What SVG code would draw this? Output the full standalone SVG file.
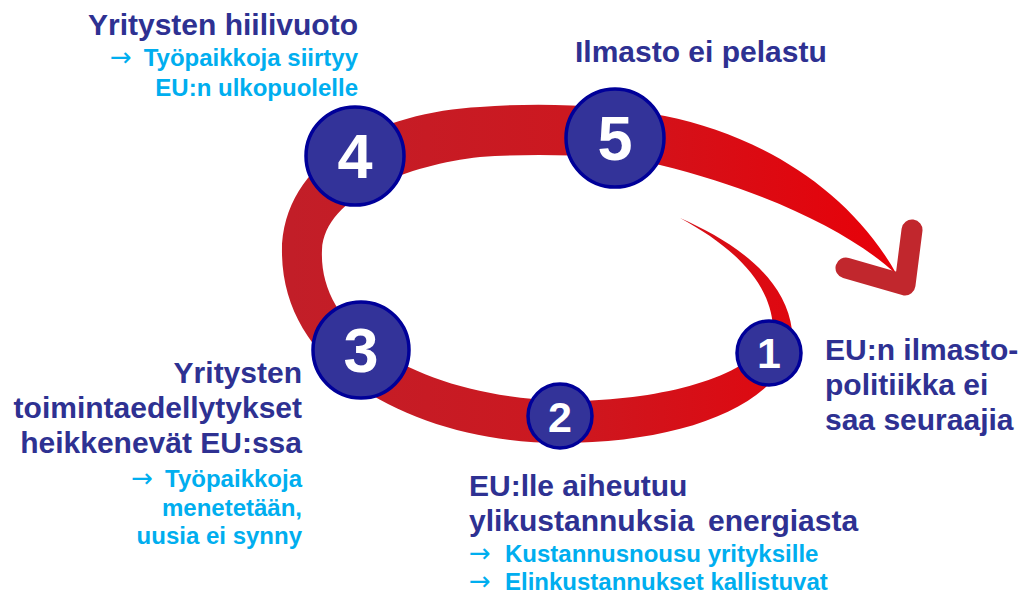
<svg xmlns="http://www.w3.org/2000/svg" width="1021" height="595" viewBox="0 0 1021 595">
<style>
text{font-family:"Liberation Sans",Arial,sans-serif;font-weight:bold}
.t{fill:#2E3192;font-size:30px}
.s{fill:#00AEEF;font-size:24px}
.ar{font-family:"DejaVu Sans",sans-serif;font-weight:normal;font-size:26px}
.c{fill:#333399;stroke:#000099;stroke-width:3.5}
.d{fill:#fff;text-anchor:middle}
.big{font-size:63px}
.sm{font-size:43px}
.e{text-anchor:end}
</style>
<defs>
<linearGradient id="rg" gradientUnits="userSpaceOnUse" x1="290" y1="0" x2="900" y2="0">
<stop offset="0" stop-color="#C21E28"/>
<stop offset="0.45" stop-color="#CC1820"/>
<stop offset="1" stop-color="#E80008"/>
</linearGradient>
</defs>
<rect width="1021" height="595" fill="#fff"/>
<g id="connectors">
<path fill="url(#rg)" d="M680,218 C730,240 785,275 792,330 C795,400 690,443 560,443 C430,443 285,380 282,255 C280,160 380,112 480,107 C540,102 610,105 665,116 C760,135 850,190 897,275 C855,235 770,192 660,165 C610,155 540,153 480,157 C410,165 325,195 322,250 C318,335 420,395 560,401 C650,402 760,380 773,327 C770,280 730,245 680,218 Z"/>
<polyline points="912,230 905,285 846,268" fill="none" stroke="#C1272D" stroke-width="21" stroke-linecap="round" stroke-linejoin="round"/>
</g>
<g id="node1">
<circle class="c" cx="769" cy="353" r="32"/>
<text class="d sm" x="769" y="368">1</text>
<text class="t" x="825" y="360">EU:n ilmasto-</text>
<text class="t" x="825" y="395">politiikka ei</text>
<text class="t" x="825" y="430">saa seuraajia</text>
</g>
<g id="node2">
<circle class="c" cx="560" cy="416" r="32"/>
<text class="d sm" x="560" y="432">2</text>
<text class="t" x="469" y="496">EU:lle aiheutuu</text>
<text class="t" x="469" y="531">ylikustannuksia<tspan dx="14">energiasta</tspan></text>
<text class="s" x="469" y="562"><tspan class="ar">→</tspan><tspan x="505">Kustannusnousu yrityksille</tspan></text>
<text class="s" x="469" y="590"><tspan class="ar">→</tspan><tspan x="505">Elinkustannukset kallistuvat</tspan></text>
</g>
<g id="node3">
<circle class="c" cx="361" cy="350" r="48"/>
<text class="d big" x="361" y="372">3</text>
<text class="t e" x="302" y="383">Yritysten</text>
<text class="t e" x="302" y="418">toimintaedellytykset</text>
<text class="t e" x="302" y="453">heikkenevät EU:ssa</text>
<text class="s e" x="302" y="487"><tspan class="ar">→</tspan><tspan dx="12">Työpaikkoja</tspan></text>
<text class="s e" x="302" y="516">menetetään,</text>
<text class="s e" x="302" y="544">uusia ei synny</text>
</g>
<g id="node4">
<circle class="c" cx="355" cy="156" r="49"/>
<text class="d big" x="355" y="178">4</text>
<text class="t e" x="358" y="35">Yritysten hiilivuoto</text>
<text class="s e" x="358" y="66"><tspan class="ar">→</tspan><tspan dx="12">Työpaikkoja siirtyy</tspan></text>
<text class="s e" x="358" y="96">EU:n ulkopuolelle</text>
</g>
<g id="node5">
<circle class="c" cx="615" cy="138" r="49"/>
<text class="d big" x="615" y="160">5</text>
<text class="t" x="575" y="62">Ilmasto ei pelastu</text>
</g>
</svg>
